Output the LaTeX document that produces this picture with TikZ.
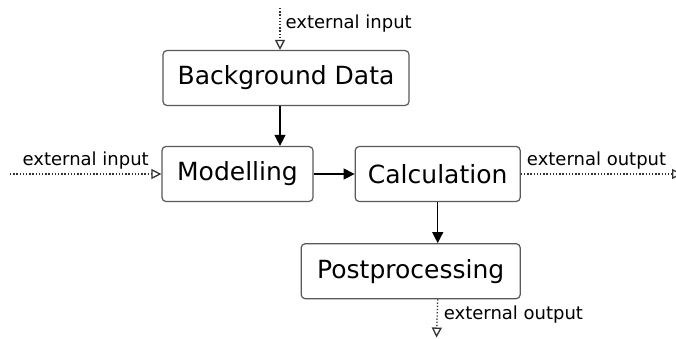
\documentclass[tikz,border=0pt]{standalone}
\usepackage{fontspec}
\setmainfont{DejaVu Sans}
\usetikzlibrary{positioning,arrows.meta,calc}

\begin{document}
\begin{tikzpicture}[x=1pt,y=-1pt,
        box/.style={draw=black!65, line width=1.2pt, rounded corners=4pt,
            minimum height=55pt, inner sep=0pt, font=\fontsize{25}{30}\selectfont},
        flow/.style={-{Triangle[length=11pt,width=11pt]}, line width=1.2pt},
        ext/.style={-{Triangle[open,length=10pt,width=10pt]},
            dash pattern=on 1.3pt off 1.9pt, line width=1.3pt, black!80},
        lbl/.style={font=\fontsize{18}{21}\selectfont, inner sep=0pt, black}]
    \useasboundingbox (0,0) rectangle (676,338);
    \node[box, minimum width=246pt] (bg) at (286,78) {Background Data};
    \node[box, minimum width=151pt] (mod) at (237.5,174) {Modelling};
    \node[box, minimum width=165pt, right=41pt of mod] (calc) {Calculation};
    \node[box, minimum width=219pt, anchor=north east] (post)
        at ($(calc.south east)+(0,41)$) {Postprocessing};
    \coordinate (in1) at (280,8);
    \coordinate (in2) at (10,174);
    \coordinate (out1) at (682,174);
    \coordinate (out2) at (436.5,337.5);
    % external in/out
    \draw[ext] (in1) -- node[lbl, right=5pt, pos=0.38] (in1l) {external input}
        (in1 |- bg.north);
    \draw[ext] (in2) -- node[lbl, above=4pt] (in2l) {external input} (mod.west);
    \draw[ext] (calc.east) -- node[lbl, above=4pt, pos=0.47] (out1l)
        {external output} (out1);
    \draw[ext] (calc.south |- post.south) -- node[lbl, right=6pt, pos=0.39]
        (out2l) {external output} (out2);
    % flow
    \draw[flow] (in1 |- bg.south) -- (in1 |- mod.north);
    \draw[flow] (mod.east) -- (calc.west);
    \draw[flow] (calc.south) -- (calc.south |- post.north);
\end{tikzpicture}
\end{document}
